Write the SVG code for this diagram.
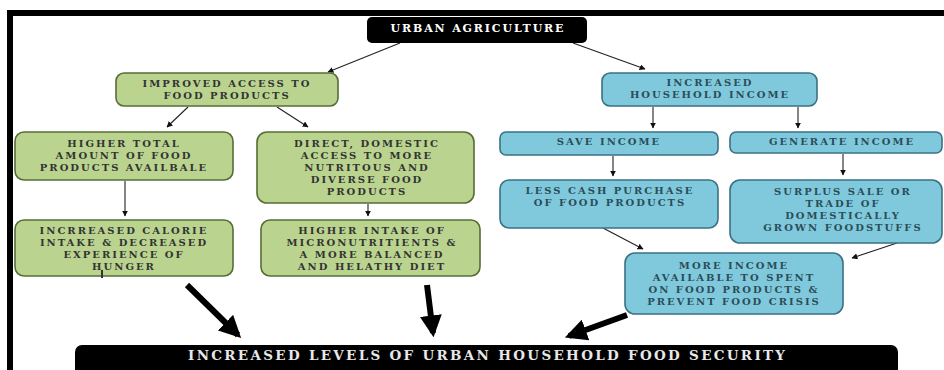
<svg xmlns="http://www.w3.org/2000/svg" width="944" height="370" viewBox="0 0 944 370">
<defs>
<style>
.t{font-family:"DejaVu Serif","Liberation Serif",serif;font-weight:bold;font-size:10px;letter-spacing:2px;text-anchor:middle}
.g rect{fill:#bad48f;stroke:#566d35;stroke-width:1.6}
.g text{fill:#333}
.b rect{fill:#80c9dd;stroke:#3a7184;stroke-width:1.6}
.b text{fill:#2b4d58}
.thin{stroke:#222;stroke-width:1.1;fill:none;marker-end:url(#ah)}
.big{stroke:#000;stroke-width:6;fill:none;marker-end:url(#bh)}
</style>
<marker id="ah" viewBox="0 0 10 10" refX="9" refY="5" markerWidth="6" markerHeight="6" markerUnits="userSpaceOnUse" orient="auto">
<path d="M0,0 L10,5 L0,10 z" fill="#111"/>
</marker>
<marker id="bh" viewBox="0 0 10 10" refX="8" refY="5" markerWidth="22" markerHeight="22" markerUnits="userSpaceOnUse" orient="auto">
<path d="M0,0 L10,5 L0,10 z" fill="#000"/>
</marker>
</defs>
<rect width="944" height="370" fill="#fff"/>
<g id="frame">
<rect x="7" y="10" width="937" height="6" fill="#000"/>
<rect x="7" y="10" width="6" height="360" fill="#000"/>
</g>
<g id="connectors">
<line class="thin" x1="400" y1="43" x2="328" y2="72"/>
<line class="thin" x1="573" y1="43" x2="645" y2="69"/>
<line class="thin" x1="188" y1="107" x2="167" y2="127"/>
<line class="thin" x1="277" y1="107" x2="308" y2="127"/>
<line class="thin" x1="653" y1="107" x2="653" y2="128"/>
<line class="thin" x1="798" y1="107" x2="798" y2="128"/>
<line class="thin" x1="125" y1="181" x2="125" y2="216"/>
<line class="thin" x1="368" y1="204" x2="368" y2="216"/>
<line class="thin" x1="613" y1="156" x2="613" y2="176"/>
<line class="thin" x1="843" y1="154" x2="843" y2="175"/>
<line class="thin" x1="603" y1="228" x2="643" y2="249"/>
<line class="thin" x1="897" y1="243" x2="852" y2="258"/>
<line class="big" x1="187" y1="285" x2="238" y2="335"/>
<line class="big" x1="427" y1="285" x2="433" y2="333"/>
<line class="big" x1="627" y1="315" x2="569" y2="336"/>
</g>
<g id="urban-agriculture">
<rect x="367" y="17" width="220" height="26" rx="5" fill="#000"/>
<text class="t" x="477" y="31.5" fill="#fff" textLength="173" lengthAdjust="spacing" style="letter-spacing:0;font-size:11px">URBAN AGRICULTURE</text>
</g>
<g id="improved-access" class="g">
<rect x="116" y="73" width="222" height="33" rx="8"/>
<text class="t" x="227" y="86.5">IMPROVED ACCESS TO</text>
<text class="t" x="227" y="98.5">FOOD PRODUCTS</text>
</g>
<g id="increased-income" class="b">
<rect x="602" y="73" width="215" height="33" rx="8"/>
<text class="t" x="710" y="86">INCREASED</text>
<text class="t" x="710" y="98">HOUSEHOLD INCOME</text>
</g>
<g id="higher-total" class="g">
<rect x="15" y="132" width="218" height="48" rx="9"/>
<text class="t" x="124" y="146.5">HIGHER TOTAL</text>
<text class="t" x="124" y="158.5">AMOUNT OF FOOD</text>
<text class="t" x="124" y="170.5">PRODUCTS AVAILBALE</text>
</g>
<g id="calorie" class="g">
<rect x="15" y="220" width="218" height="56" rx="9"/>
<text class="t" x="124" y="234">INCRREASED CALORIE</text>
<text class="t" x="124" y="246">INTAKE &amp; DECREASED</text>
<text class="t" x="124" y="258">EXPERIENCE OF</text>
<text class="t" x="124" y="270">HUNGER</text>
<rect x="101" y="270" width="2" height="8" style="fill:#333;stroke:none"/>
</g>
<g id="direct-access" class="g">
<rect x="257" y="132" width="217" height="71" rx="10"/>
<text class="t" x="367" y="147">DIRECT, DOMESTIC</text>
<text class="t" x="367" y="159">ACCESS TO MORE</text>
<text class="t" x="367" y="171">NUTRITOUS AND</text>
<text class="t" x="367" y="183">DIVERSE FOOD</text>
<text class="t" x="367" y="195">PRODUCTS</text>
</g>
<g id="higher-intake" class="g">
<rect x="261" y="220" width="219" height="56" rx="9"/>
<text class="t" x="372" y="234">HIGHER INTAKE OF</text>
<text class="t" x="372" y="246">MICRONUTRITIENTS &amp;</text>
<text class="t" x="372" y="258">A MORE BALANCED</text>
<text class="t" x="372" y="270">AND HELATHY DIET</text>
</g>
<g id="save-income" class="b">
<rect x="500" y="132" width="218" height="23" rx="6"/>
<text class="t" x="609" y="145">SAVE INCOME</text>
</g>
<g id="generate-income" class="b">
<rect x="730" y="132" width="212" height="21" rx="6"/>
<text class="t" x="842" y="145">GENERATE INCOME</text>
</g>
<g id="less-cash" class="b">
<rect x="500" y="180" width="218" height="48" rx="9"/>
<text class="t" x="610" y="194">LESS CASH PURCHASE</text>
<text class="t" x="610" y="206">OF FOOD PRODUCTS</text>
</g>
<g id="surplus-sale" class="b">
<rect x="730" y="180" width="212" height="63" rx="10"/>
<text class="t" x="843" y="195">SURPLUS SALE OR</text>
<text class="t" x="843" y="207">TRADE OF</text>
<text class="t" x="843" y="219">DOMESTICALLY</text>
<text class="t" x="843" y="231">GROWN FOODSTUFFS</text>
</g>
<g id="more-income" class="b">
<rect x="625" y="253" width="218" height="61" rx="10"/>
<text class="t" x="734" y="269">MORE INCOME</text>
<text class="t" x="734" y="281">AVAILABLE TO SPENT</text>
<text class="t" x="734" y="293">ON FOOD PRODUCTS &amp;</text>
<text class="t" x="734" y="305">PREVENT FOOD CRISIS</text>
</g>
<g id="food-security">
<rect x="75" y="345" width="823" height="40" rx="7" fill="#000"/>
<text class="t" x="486.5" y="360" fill="#e8e8e8" style="font-size:13.5px;letter-spacing:0" textLength="597" lengthAdjust="spacing">INCREASED LEVELS OF URBAN HOUSEHOLD FOOD SECURITY</text>
</g>
</svg>
